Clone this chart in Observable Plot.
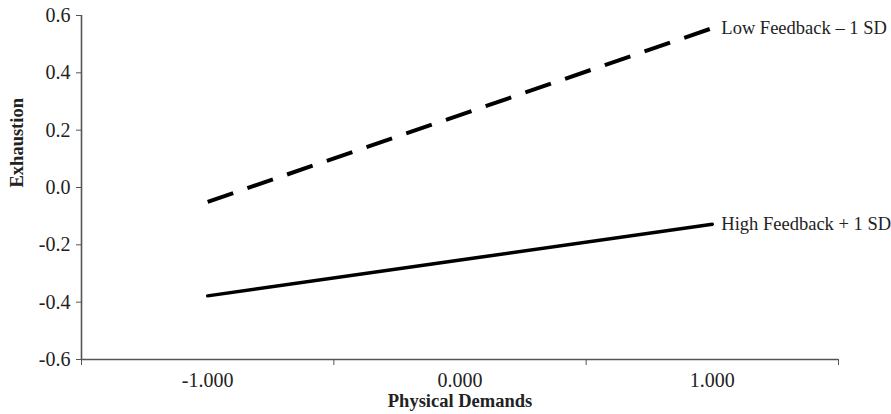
<!DOCTYPE html>
<html>
<head>
<meta charset="utf-8">
<script src="https://cdn.jsdelivr.net/npm/d3@7"></script>
<script src="https://cdn.jsdelivr.net/npm/@observablehq/plot@0.6"></script>
<style>
  html, body { margin: 0; padding: 0; background: #fff; }
  #chart svg { display: block; }
</style>
</head>
<body>
<div id="chart"></div>
<script>
const xValues = [-1, 1];
const lowFeedback = [-0.05, 0.556];
const highFeedback = [-0.378, -0.128];
const seriesNames = ["Low Feedback – 1 SD", "High Feedback + 1 SD"];
const yTicks = [-0.6, -0.4, -0.2, 0.0, 0.2, 0.4, 0.6];
const xTickLabels = [-1, 0, 1];
const xTickMarks = [-1.5, -0.5, 0.5, 1.5];

const rows = [
  ...xValues.map((x, i) => ({series: seriesNames[0], x, y: lowFeedback[i]})),
  ...xValues.map((x, i) => ({series: seriesNames[1], x, y: highFeedback[i]}))
];
const ends = rows.filter(d => d.x === xValues[xValues.length - 1]);

const font = "'Liberation Serif', 'Times New Roman', serif";
const axisColor = "#555";
const hyphen = f => d => f(d).replace("\u2212", "-");

const chart = Plot.plot({
  width: 891,
  height: 414,
  marginLeft: 81,
  marginRight: 53,
  marginTop: 15,
  marginBottom: 55,
  style: {fontFamily: font, fontSize: "20px", color: "#222", background: "#fff"},
  x: {domain: [-1.5, 1.5]},
  y: {domain: [-0.6, 0.6]},
  marks: [
    Plot.axisY({ticks: yTicks, tickFormat: hyphen(d3.format(".1f")), tickSize: 5, tickPadding: 6, stroke: axisColor, fontSize: 20, label: null}),
    Plot.axisX({ticks: xTickMarks, tickFormat: () => "", tickSize: 6, stroke: axisColor, label: null}),
    Plot.axisX({ticks: xTickLabels, tickFormat: hyphen(d3.format(".3f")), tickSize: 0, tickPadding: 13, fontSize: 20, label: null}),
    Plot.ruleX([-1.5], {stroke: axisColor, strokeWidth: 1.6}),
    Plot.ruleY([-0.6], {stroke: axisColor, strokeWidth: 1.6}),
    Plot.line(rows.filter(d => d.series === seriesNames[0]), {x: "x", y: "y", stroke: "#000", strokeWidth: 4, strokeDasharray: "27,15", strokeLinecap: "butt"}),
    Plot.line(rows.filter(d => d.series === seriesNames[1]), {x: "x", y: "y", stroke: "#000", strokeWidth: 3.5}),
    Plot.text(ends, {x: "x", y: "y", text: "series", dx: 9, textAnchor: "start", fontSize: 18.5, fill: "#222", fontFamily: font}),
    Plot.text(["Exhaustion"], {frameAnchor: "left", dx: -64, rotate: -90, fontWeight: "bold", fontSize: 18.5, fill: "#222"}),
    Plot.text(["Physical Demands"], {frameAnchor: "bottom", dy: 47, fontWeight: "bold", fontSize: 18.5, fill: "#222"})
  ]
});
document.getElementById("chart").appendChild(chart);
</script>
</body>
</html>
